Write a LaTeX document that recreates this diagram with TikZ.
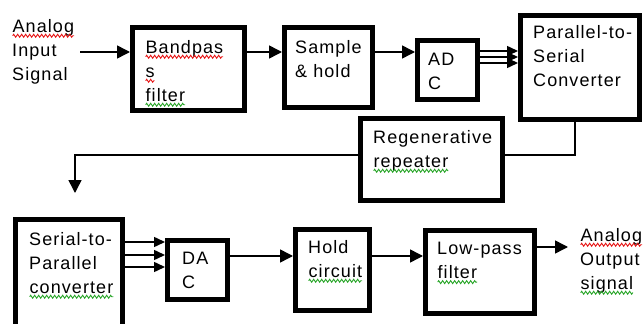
\documentclass[tikz,border=0pt]{standalone}
\usepackage{fontspec}
\setmainfont[LetterSpace=6]{Liberation Sans}
\usetikzlibrary{arrows.meta, positioning, decorations.pathmorphing}

\definecolor{spellred}{RGB}{230,20,20}
\definecolor{spellgreen}{RGB}{40,165,40}

% word with a wavy mark under it
\newcommand\wavy[2]{\tikz[baseline=(w.base)]{%
	\node[inner sep=0pt, outer sep=0pt, anchor=base west] (w) {#2};
	\draw[#1, line width=0.9pt, decorate, decoration={zigzag, amplitude=1.5pt, segment length=4pt}]
		([yshift=-3.5pt]w.base west) -- ([yshift=-3.5pt]w.base east);}}

\begin{document}
\begin{tikzpicture}[x=1pt, y=-1pt,
	blk/.style={draw, line width=5pt, anchor=north west, inner sep=0pt},
	txt/.style={anchor=north west, align=left, inner sep=0pt, font=\fontsize{18}{24}\selectfont},
	conn/.style={line width=1.5pt, -{Triangle[length=13pt, width=13pt]}},
	bus/.style={line width=1.5pt, -{Triangle[length=11pt, width=10pt]}},
	wire/.style={line width=1.5pt}]
	\useasboundingbox (0,0) rectangle (643,324);

	% blocks
	\draw (130,25) node[blk, minimum width=112, minimum height=83] (bpf) {}
	(282,25) node[blk, minimum width=88, minimum height=80] (snh) {}
	(415,38) node[blk, minimum width=60, minimum height=59] (adc) {}
	(518,13) node[blk, minimum width=119, minimum height=104] (p2s) {}
	(358,116) node[blk, minimum width=142, minimum height=82] (rep) {}
	(13,217) node[blk, minimum width=107, minimum height=115] (s2p) {}
	(165,238) node[blk, minimum width=60, minimum height=59] (dac) {}
	(293,227) node[blk, minimum width=74, minimum height=81] (hold) {}
	(423,228) node[blk, minimum width=109, minimum height=83] (lpf) {};

	% block texts
	\draw (12,19) node[txt] (ain-t) {\wavy{spellred}{Analog}\\Input\\Signal}
	(145,40) node[txt] (bpf-t) {\wavy{spellred}{Bandpas}\\\wavy{spellred}{s}\\\wavy{spellgreen}{filter}}
	(295,40) node[txt] (snh-t) {Sample\\\& hold}
	(428,53) node[txt] (adc-t) {AD\\C}
	(533,25) node[txt] (p2s-t) {Parallel-to-\\Serial\\Converter}
	(373,130) node[txt] (rep-t) {Regenerative\\\wavy{spellgreen}{repeater}}
	(29,232) node[txt] (s2p-t) {Serial-to-\\Parallel\\\wavy{spellgreen}{converter}}
	(182,252) node[txt] (dac-t) {DA\\C}
	(308,240) node[txt] (hold-t) {Hold\\\wavy{spellgreen}{circuit}}
	(437,242) node[txt] (lpf-t) {Low-pass\\\wavy{spellgreen}{filter}}
	(580,228) node[txt] (aout-t) {\wavy{spellred}{Analog}\\Output\\\wavy{spellgreen}{signal}};

	\coordinate (ain) at (80,52);
	\coordinate (tap) at (575,155);
	\coordinate (turn) at (75,155);
	\coordinate (drop) at (75,193);
	\coordinate (aout) at (568,247);

	% upper chain
	\draw[conn] (ain) -- (bpf.west |- ain);
	\draw[conn] (bpf.east |- ain) -- (snh.west |- ain);
	\draw[conn] (snh.east |- ain) -- (adc.west |- ain);
	\foreach \y in {51,57,63}
		\draw[bus] (adc.east |- 0,\y) -- (p2s.west |- 0,\y);

	% through the repeater and back down
	\draw[wire] (p2s.south -| tap) -- (tap) -- (rep.east |- tap);
	\draw[conn] (rep.west |- tap) -- (turn) -- (drop);

	% lower chain
	\foreach \y in {242,255,267}
		\draw[bus] (s2p.east |- 0,\y) -- (dac.west |- 0,\y);
	\draw[conn] (dac.east |- 0,256) -- (hold.west |- 0,256);
	\draw[conn] (hold.east |- 0,256) -- (lpf.west |- 0,256);
	\draw[conn] (lpf.east |- aout) -- (aout);
\end{tikzpicture}
\end{document}
